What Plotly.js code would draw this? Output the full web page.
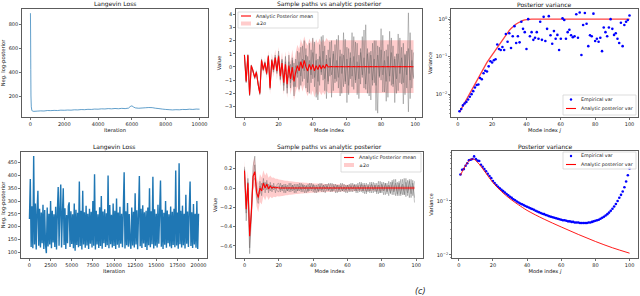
<!DOCTYPE html>
<html><head><meta charset="utf-8">
<script src="https://cdn.plot.ly/plotly-3.0.1.min.js"></script>
<style>html,body{margin:0;padding:0;background:#fff}#chart{width:640px;height:296px}</style>
</head><body><div id="chart"></div>
<script>
// ---------------- DATA ----------------
// Panel 1: Langevin loss (10000 iterations)
const iters1 = [0,10,20,30,50,80,120,200,400,600,800,1000,1200,1400,1600,1800,2000,2200,2400,2600,2800,3000,3200,3400,3600,3800,4000,4200,4400,4600,4800,5000,5200,5400,5600,5800,5900,6000,6100,6200,6400,6600,6800,7000,7200,7400,7600,7800,8000,8200,8400,8600,8800,9000,9200,9400,9600,9800,10000];
const loss1  = [890,700,420,200,110,82,74,72,74,76,75,79,78,80,79,82,81,83,82,85,84,87,86,89,88,91,90,93,92,95,93,96,94,97,95,99,112,118,108,101,98,100,102,104,103,98,95,91,88,86,84,86,85,88,87,90,88,91,90];

// Panel 4: Langevin loss (20000 iterations, every 100th)
const loss4 = [
230,386,120,280,115,476,130,290,110,260,
340,125,270,118,255,135,285,112,265,128,
96,275,122,250,130,300,115,262,138,248,
120,278,110,258,355,125,268,365,118,252,
350,128,272,112,245,135,280,295,120,260,
132,248,115,290,105,266,128,254,119,376,
124,262,110,340,130,256,117,282,126,250,
112,270,133,258,118,300,125,405,110,262,
130,248,116,276,124,320,113,259,135,268,
120,252,127,400,115,284,131,246,118,290,
124,262,112,310,129,255,117,278,133,250,
119,268,413,114,260,127,292,121,249,136,
113,275,126,258,118,330,130,264,111,252,
398,123,270,116,283,134,256,120,262,108,
275,127,350,119,260,131,395,114,268,125,
250,118,285,133,257,380,121,266,112,254,
129,300,117,263,135,248,122,279,115,258,
128,270,119,420,126,255,113,448,131,262,
118,282,127,250,114,325,133,259,120,268,
376,124,256,116,288,130,250,117,300,112,
250];
const iters4 = loss4.map((_, i) => i * 100);

// Panel 2: sample paths vs analytic posterior (modes 0..99)
const modes = Array.from({length: 100}, (_, i) => i);
const mean2 = [
0.9,-1.1,0.9,-2.1,0.1,-0.3,-0.8,-0.4,-1.3,-2.0,
0.5,-0.2,0.3,-0.5,0.8,-1.6,0.5,-0.2,0.7,-0.3,
0.8,-0.7,0.3,-1.2,0.2,-1.3,0.1,-0.9,0.0,-1.1,
-0.4,0.1,-0.3,0.4,-0.1,0.5,0.0,-0.3,0.2,-0.2,
0.2,-0.3,0.1,-0.2,0.15,-0.15,0.1,-0.1,0.2,0.0,
0.02,0.03,0.02,0.02,0.03,0.02,0.02,0.03,0.02,0.02,
0.02,0.03,0.02,0.02,0.03,0.02,0.02,0.03,0.02,0.02,
0.02,0.03,0.02,0.02,0.03,0.02,0.02,0.03,0.02,0.02,
0.02,0.03,0.02,0.02,0.03,0.02,0.02,0.03,0.02,0.02,
0.02,0.03,0.02,0.02,0.03,0.02,0.02,0.03,0.02,0.02];
const pathA2 = [
0.85,-1.0,0.95,-2.0,0.1,-0.4,-0.7,-0.5,-1.2,-2.1,
0.6,-0.3,0.4,-0.6,0.9,-1.4,0.6,-0.4,0.9,-0.5,
1.2,-1.0,0.5,-1.8,0.8,-2.0,0.9,-1.6,0.7,-2.2,
0.6,-0.8,1.1,-1.4,1.6,-0.9,1.4,-1.9,1.8,-1.2,
2.2,-1.5,1.0,-2.5,1.7,-0.6,2.4,-1.8,0.9,-1.1,
1.9,-2.3,1.2,-0.9,2.1,-1.6,0.8,-2.0,2.6,-1.3,
1.5,-2.1,0.7,-1.5,2.3,-1.0,1.8,-2.4,1.1,-0.8,
2.8,-1.7,1.4,-2.2,0.9,-1.4,2.0,-3.3,1.6,-0.7,
2.9,-1.9,1.2,-2.6,1.7,-1.1,2.2,-1.5,0.8,-2.0,
2.5,-1.2,1.5,-2.8,1.0,-1.6,4.1,-2.4,1.3,-0.9];
const pathB2 = [
0.95,-1.2,0.8,-2.2,0.0,-0.2,-0.9,-0.3,-1.4,-1.9,
0.4,-0.1,0.2,-0.4,0.7,-1.7,0.4,0.0,0.5,-0.1,
0.5,-0.3,0.1,-0.7,-0.5,-0.6,-0.8,0.2,-1.0,0.3,
-1.5,1.2,-1.7,1.5,-1.1,2.0,-1.6,0.8,-2.0,1.3,
-0.9,1.9,-2.3,0.6,-1.4,2.3,-1.0,1.6,-2.4,1.3,
-0.7,2.0,-1.8,1.7,-1.1,2.4,-2.2,1.0,-1.5,2.1,
-2.7,1.4,-0.9,2.6,-1.7,1.9,-2.1,0.9,-1.3,2.3,
-1.6,3.2,-2.0,1.1,-2.5,1.8,-1.2,2.0,-3.5,1.5,
-1.0,2.4,-1.9,1.3,-2.3,2.7,-1.4,1.6,-2.7,1.0,
-1.8,2.2,-1.3,1.8,-2.1,1.2,-3.4,2.6,-1.6,1.1];
const pathC2 = [
0.9,-1.1,0.85,-2.1,0.15,-0.35,-0.75,-0.45,-1.3,-2.0,
0.5,-0.2,0.35,-0.5,0.8,-1.5,0.5,-0.25,0.75,-0.35,
0.9,-0.9,0.6,-1.4,0.4,-1.6,0.4,-1.2,0.5,-1.5,
0.1,-0.5,0.4,-0.7,0.6,-0.3,0.9,-1.2,0.5,-0.6,
1.1,-0.8,0.5,-1.1,0.8,-0.4,1.2,-0.9,0.6,-1.3,
0.7,-0.6,1.0,-1.2,0.5,-0.8,1.3,-0.5,0.9,-1.1,
0.6,-1.4,1.1,-0.7,0.8,-1.2,0.4,-0.9,1.4,-0.6,
0.7,-1.3,1.0,-0.5,1.2,-1.0,0.6,-1.4,0.9,-0.8,
1.3,-0.6,0.5,-1.1,0.8,-0.7,1.1,-1.3,0.6,-0.9,
1.0,-0.5,0.7,-1.2,0.9,-0.6,1.4,-1.0,0.5,-0.8];

// Panel 3: posterior variance (modes j = 1..100)
const modeJ = Array.from({length: 100}, (_, i) => i + 1);
const analyticVar3 = [
0.0033,0.0040,0.0048,0.0058,0.0070,0.0085,0.0103,0.0125,0.0155,0.0195,
0.024,0.029,0.035,0.042,0.050,0.059,0.070,0.082,0.096,0.11,
0.13,0.15,0.175,0.205,0.24,0.28,0.33,0.38,0.44,0.50,
0.56,0.62,0.68,0.74,0.79,0.84,0.88,0.92,0.95,0.97,
0.985,0.99,1,1,1,1,1,1,1,1,
1,1,1,1,1,1,1,1,1,1,
1,1,1,1,1,1,1,1,1,1,
1,1,1,1,1,1,1,1,1,1,
1,1,1,1,1,1,1,1,1,1,
1,1,1,1,1,1,1,1,1,1];
const empVar3 = [
0.0035,0.0040,0.0050,0.0056,0.0062,0.0072,0.0085,0.0100,0.0120,0.0150,
0.0175,0.0180,0.027,0.025,0.036,0.042,0.040,0.055,0.075,0.070,
0.080,0.085,0.21,0.16,0.15,0.18,0.15,0.40,0.25,0.42,
0.17,0.35,0.65,0.23,0.35,0.24,0.85,0.55,0.45,0.16,
1.0,0.35,0.45,0.28,0.32,0.45,0.30,0.85,0.28,1.15,
0.26,0.55,1.2,0.37,0.22,0.48,0.30,0.38,0.15,0.30,
1.05,0.95,0.30,0.45,0.52,0.37,0.33,0.35,1.35,0.32,
1.5,0.11,0.70,1.45,0.75,0.19,0.37,0.35,1.4,0.26,
0.30,0.25,0.32,0.14,0.60,0.45,0.35,0.60,1.0,0.55,
0.38,0.42,0.30,0.23,0.80,0.19,0.70,0.85,0.95,1.25];

// Panel 5: sample paths vs analytic posterior (second run)
const mean5 = [
0.18,-0.22,0.05,-0.5,-0.25,0.12,0.17,-0.04,-0.1,0.0,
-0.03,0.05,0.0,0.04,-0.01,0.02,0.0,0.01,0.0,0.005,
0,0,0,0,0,0,0,0,0,0, 0,0,0,0,0,0,0,0,0,0,
0,0,0,0,0,0,0,0,0,0, 0,0,0,0,0,0,0,0,0,0,
0,0,0,0,0,0,0,0,0,0, 0,0,0,0,0,0,0,0,0,0,
0,0,0,0,0,0,0,0,0,0, 0,0,0,0,0,0,0,0,0,0];
const halfWidth5 = [
0.11,0.12,0.13,0.135,0.14,0.145,0.15,0.15,0.15,0.145,
0.14,0.135,0.13,0.12,0.115,0.11,0.105,0.10,0.095,0.09,
0.088,0.085,0.082,0.079,0.076,0.074,0.071,0.069,0.067,0.065,
0.063,0.061,0.06,0.058,0.057,0.055,0.054,0.053,0.051,0.05,
0.049,0.048,0.047,0.046,0.045,0.044,0.043,0.042,0.041,0.041,
0.04,0.04,0.039,0.039,0.038,0.038,0.037,0.036,0.036,0.035,
0.035,0.034,0.034,0.033,0.033,0.032,0.032,0.032,0.031,0.031,
0.031,0.030,0.030,0.030,0.029,0.029,0.029,0.028,0.028,0.028,
0.028,0.027,0.027,0.027,0.026,0.026,0.026,0.025,0.025,0.025,
0.025,0.024,0.024,0.024,0.023,0.023,0.023,0.022,0.022,0.022];
const pathA5 = [
0.22,-0.26,0.1,-0.62,-0.22,0.22,0.33,-0.1,-0.16,0.07,
-0.08,0.1,-0.05,0.08,-0.05,0.06,-0.04,0.05,-0.05,0.04,
0.05,-0.04,0.03,-0.05,0.04,-0.03,0.05,-0.04,0.03,-0.05,
0.04,-0.03,0.05,-0.04,0.04,-0.05,0.03,-0.04,0.05,-0.03,
0.04,-0.05,0.03,-0.04,0.05,-0.04,0.03,-0.05,0.04,-0.03,
0.05,-0.04,0.04,-0.05,0.03,-0.04,0.05,-0.03,0.04,-0.05,
0.03,-0.04,0.05,-0.04,0.04,-0.05,0.05,-0.04,0.06,-0.05,
0.05,-0.06,0.04,-0.05,0.06,-0.05,0.05,-0.06,0.07,-0.05,
0.06,-0.07,0.05,-0.06,0.07,-0.06,0.08,-0.07,0.09,-0.08,
0.07,-0.08,0.09,-0.07,0.10,-0.08,0.09,-0.1,0.08,-0.15];
const pathB5 = [
0.12,-0.34,0.0,-0.68,-0.3,0.08,0.1,0.02,-0.05,-0.06,
0.05,-0.02,0.06,-0.02,0.04,-0.03,0.03,-0.02,0.02,-0.03,
-0.04,0.05,-0.03,0.04,-0.05,0.03,-0.04,0.05,-0.03,0.04,
-0.05,0.04,-0.03,0.05,-0.04,0.03,-0.05,0.04,-0.03,0.05,
-0.04,0.03,-0.05,0.04,-0.03,0.05,-0.04,0.04,-0.03,0.05,
-0.04,0.05,-0.03,0.04,-0.05,0.03,-0.04,0.05,-0.04,0.03,
-0.05,0.04,-0.04,0.05,-0.03,0.04,-0.05,0.06,-0.04,0.05,
-0.06,0.05,-0.04,0.06,-0.05,0.06,-0.04,0.05,-0.06,0.07,
-0.05,0.06,-0.07,0.05,-0.08,0.06,-0.07,0.09,-0.08,0.06,
-0.08,0.09,-0.07,0.1,-0.09,0.08,-0.1,0.09,-0.08,0.07];
const pathC5 = [
0.2,-0.18,0.06,-0.45,-0.26,0.1,0.24,-0.05,-0.12,0.02,
-0.01,0.06,0.01,0.05,0.0,0.03,-0.01,0.02,0.0,0.01,
0.02,-0.02,0.03,-0.01,0.02,-0.03,0.01,-0.02,0.03,-0.02,
0.01,-0.03,0.02,-0.02,0.03,-0.01,0.02,-0.03,0.02,-0.01,
0.03,-0.02,0.01,-0.03,0.02,-0.02,0.03,-0.01,0.02,-0.02,
0.01,-0.03,0.02,-0.01,0.03,-0.02,0.02,-0.03,0.01,-0.02,
0.03,-0.02,0.02,-0.01,0.03,-0.03,0.02,-0.02,0.04,-0.03,
0.03,-0.04,0.02,-0.03,0.04,-0.02,0.03,-0.04,0.03,-0.05,
0.04,-0.03,0.05,-0.04,0.03,-0.05,0.06,-0.04,0.05,-0.06,
0.05,-0.06,0.04,-0.07,0.06,-0.05,0.07,-0.06,0.05,-0.1];

// Panel 6: posterior variance (second run)
const empVar6 = [
0.31,0.38,0.39,0.45,0.50,0.57,0.58,0.60,0.67,0.60,
0.56,0.55,0.47,0.43,0.39,0.355,0.32,0.29,0.265,0.235,
0.215,0.198,0.184,0.172,0.162,0.152,0.143,0.135,0.127,0.12,
0.114,0.108,0.103,0.098,0.094,0.09,0.087,0.084,0.081,0.078,
0.076,0.073,0.071,0.069,0.066,0.064,0.062,0.06,0.058,0.057,
0.055,0.054,0.052,0.051,0.05,0.049,0.048,0.047,0.046,0.045,
0.044,0.044,0.043,0.042,0.042,0.041,0.041,0.04,0.04,0.04,
0.039,0.039,0.039,0.039,0.039,0.04,0.04,0.041,0.042,0.043,
0.044,0.045,0.047,0.049,0.051,0.054,0.057,0.061,0.066,0.072,
0.079,0.088,0.10,0.115,0.13,0.15,0.18,0.23,0.30,0.40];
const analyticJ6 = [1,3,5,7,8,9,10,12,15,20,25,30,35,40,50,60,70,80,90,100];
const analyticVar6 = [0.30,0.40,0.51,0.59,0.60,0.59,0.56,0.48,0.36,0.22,0.15,0.11,0.085,0.067,0.046,0.033,0.024,0.0178,0.0136,0.0108];

// ---------------- LAYOUT HELPERS ----------------
const F = 'DejaVu Sans';
const W = 640, H = 296;
const px = x => x / W;
const py = y => 1 - y / H;
const FRAME = '#333';
const TICKFONT = {family: F, size: 5, color: '#222'};
const TITLEFONT = {family: F, size: 5.2, color: '#111'};

function axis(x0, x1, range, extra) {
  return Object.assign({
    domain: [x0, x1], range: range, showline: true, mirror: true, linecolor: FRAME, linewidth: 0.8,
    ticks: 'outside', ticklen: 2, tickwidth: 0.7, tickcolor: FRAME, showgrid: false, zeroline: false,
    tickfont: TICKFONT, automargin: false, fixedrange: true
  }, extra || {});
}
const minorLog = {ticks: 'outside', ticklen: 1.2, tickwidth: 0.5, tickcolor: FRAME, tickmode: 'array',
  tickvals: [0.002,0.003,0.004,0.005,0.006,0.007,0.008,0.009,0.02,0.03,0.04,0.05,0.06,0.07,0.08,0.09,0.2,0.3,0.4,0.5,0.6,0.7,0.8,0.9,1.1]};

// panel frames in pixels
const P = {
  p1: {x: [22, 208], y: [9, 117]},
  p2: {x: [236, 422], y: [9, 117]},
  p3: {x: [451, 638], y: [9, 117]},
  p4: {x: [21, 207], y: [152, 258]},
  p5: {x: [236, 423], y: [152, 258]},
  p6: {x: [452, 638], y: [151, 258]}
};
const xd = p => [px(p.x[0]), px(p.x[1])];
const yd = p => [py(p.y[1]), py(p.y[0])];

// ---------------- TRACES ----------------
const C0 = '#1f77b4';
const GREY = 'rgba(85,85,85,0.5)';
const PINK = 'rgba(255,0,0,0.2)';
const traces = [];

traces.push({x: iters1, y: loss1, type: 'scatter', mode: 'lines', line: {color: C0, width: 0.7, simplify: false}, xaxis: 'x', yaxis: 'y'});

function pathPanel(mean, hw, paths, xa, ya) {
  traces.push({x: modes, y: mean.map((m, i) => m + hw[i]), type: 'scatter', mode: 'lines', line: {width: 0, color: PINK, simplify: false}, xaxis: xa, yaxis: ya});
  traces.push({x: modes, y: mean.map((m, i) => m - hw[i]), type: 'scatter', mode: 'lines', line: {width: 0, color: PINK, simplify: false}, fill: 'tonexty', fillcolor: PINK, xaxis: xa, yaxis: ya});
  paths.forEach(p => traces.push({x: modes, y: p, type: 'scatter', mode: 'lines', line: {color: GREY, width: 0.7, simplify: false}, xaxis: xa, yaxis: ya}));
  traces.push({x: modes, y: mean, type: 'scatter', mode: 'lines', line: {color: 'red', width: 1.1, simplify: false}, xaxis: xa, yaxis: ya});
}
const hw2 = analyticVar3.map(v => 2 * Math.sqrt(v));
pathPanel(mean2, hw2, [pathA2, pathB2, pathC2], 'x2', 'y2');

traces.push({x: modeJ, y: analyticVar3, type: 'scatter', mode: 'lines', line: {color: 'rgba(255,30,30,0.85)', width: 1.3}, xaxis: 'x3', yaxis: 'y3'});
traces.push({x: modeJ, y: empVar3, type: 'scatter', mode: 'markers', marker: {color: 'blue', size: 2.6, line: {width: 0}}, xaxis: 'x3', yaxis: 'y3'});

traces.push({x: iters4, y: loss4, type: 'scatter', mode: 'lines', line: {color: C0, width: 1.4, simplify: false}, xaxis: 'x4', yaxis: 'y4'});

pathPanel(mean5, halfWidth5, [pathA5, pathB5, pathC5], 'x5', 'y5');

traces.push({x: modeJ, y: empVar6, type: 'scatter', mode: 'markers', marker: {color: 'blue', size: 2.6, line: {width: 0}}, xaxis: 'x6', yaxis: 'y6'});
traces.push({x: analyticJ6, y: analyticVar6, type: 'scatter', mode: 'lines', line: {color: 'red', width: 0.9, shape: 'spline'}, xaxis: 'x6', yaxis: 'y6'});

// ---------------- LEGENDS (drawn) ----------------
const shapes = [], annotations = [];
function legendBox(x0, y0, x1, y1, items) {
  shapes.push({type: 'rect', xref: 'paper', yref: 'paper', x0: px(x0), x1: px(x1), y0: py(y1), y1: py(y0),
    fillcolor: 'rgba(255,255,255,0.85)', line: {color: '#cfcfcf', width: 0.7}, layer: 'above'});
  items.forEach(it => {
    const hx0 = x0 + 3, hx1 = x0 + 13;
    if (it.kind === 'line') {
      shapes.push({type: 'line', xref: 'paper', yref: 'paper', x0: px(hx0), x1: px(hx1), y0: py(it.cy), y1: py(it.cy), line: {color: it.color, width: 1.1}, layer: 'above'});
    } else if (it.kind === 'rect') {
      shapes.push({type: 'rect', xref: 'paper', yref: 'paper', x0: px(hx0), x1: px(hx1), y0: py(it.cy + 2), y1: py(it.cy - 2), fillcolor: it.color, line: {width: 0}, layer: 'above'});
    } else {
      const cx = (hx0 + hx1) / 2;
      shapes.push({type: 'circle', xref: 'paper', yref: 'paper', x0: px(cx - 1.2), x1: px(cx + 1.2), y0: py(it.cy + 1.2), y1: py(it.cy - 1.2), fillcolor: it.color, line: {width: 0}, layer: 'above'});
    }
    annotations.push({xref: 'paper', yref: 'paper', x: px(x0 + 16), y: py(it.cy), xanchor: 'left', yanchor: 'middle', showarrow: false,
      text: it.text, font: {family: F, size: 4.8, color: '#222'}});
  });
}
legendBox(238, 12, 318, 28, [
  {kind: 'line', color: 'red', text: 'Analytic Posterior mean', cy: 16},
  {kind: 'rect', color: PINK, text: '±2σ', cy: 23.5}]);
legendBox(341, 153, 421, 172, [
  {kind: 'line', color: 'red', text: 'Analytic Posterior mean', cy: 157.5},
  {kind: 'rect', color: PINK, text: '±2σ', cy: 165}]);
legendBox(563, 95, 636, 115, [
  {kind: 'dot', color: 'blue', text: 'Empirical var', cy: 99.5},
  {kind: 'line', color: 'red', text: 'Analytic posterior var', cy: 108.5}]);
legendBox(563, 152, 636, 169, [
  {kind: 'dot', color: 'blue', text: 'Empirical var', cy: 156},
  {kind: 'line', color: 'red', text: 'Analytic posterior var', cy: 164.5}]);

// panel titles
function panelTitle(p, text) {
  annotations.push({xref: 'paper', yref: 'paper', x: px((p.x[0] + p.x[1]) / 2), y: py(p.y[0] - 4.6), xanchor: 'center', yanchor: 'middle',
    showarrow: false, borderpad: 0, text: text, font: {family: F, size: 6, color: '#111'}});
}
panelTitle(P.p1, 'Langevin Loss');
panelTitle(P.p2, 'Sample paths vs analytic posterior');
panelTitle(P.p3, 'Posterior variance');
panelTitle(P.p4, 'Langevin Loss');
panelTitle(P.p5, 'Sample paths vs analytic posterior');
panelTitle(P.p6, 'Posterior variance');

annotations.push({xref: 'paper', yref: 'paper', x: px(420), y: py(291), xanchor: 'center', yanchor: 'middle', showarrow: false,
  text: '<i>(c)</i>', font: {family: F, size: 8, color: '#222'}});

const tt = (text) => ({text: text, font: TITLEFONT, standoff: 2});
const supT = ['10<sup>−2</sup>', '10<sup>−1</sup>', '10<sup>0</sup>'];

const layout = {
  width: W, height: H, margin: {l: 0, r: 0, t: 0, b: 0}, paper_bgcolor: 'white', plot_bgcolor: 'white', showlegend: false,
  xaxis:  axis(...xd(P.p1), [-500, 10500], {anchor: 'y', tickvals: [0,2000,4000,6000,8000,10000], tickformat: 'd', title: tt('Iteration')}),
  yaxis:  axis(...yd(P.p1), [25, 925], {anchor: 'x', tickvals: [200,400,600,800], title: tt('Neg. log-posterior')}),
  xaxis2: axis(...xd(P.p2), [-4.95, 103.95], {anchor: 'y2', tickvals: [0,20,40,60,80,100], title: tt('Mode index')}),
  yaxis2: axis(...yd(P.p2), [-3.79, 4.39], {anchor: 'x2', tickvals: [-3,-2,-1,0,1,2,3,4], title: tt('Value')}),
  xaxis3: axis(...xd(P.p3), [-3.95, 104.95], {anchor: 'y3', tickvals: [0,20,40,60,80,100], title: tt('Mode index <i>j</i>')}),
  yaxis3: axis(...yd(P.p3), [-2.61, 0.27], {anchor: 'x3', type: 'log', tickmode: 'array', tickvals: [0.01, 0.1, 1], ticktext: supT, minor: minorLog, title: tt('Variance')}),
  xaxis4: axis(...xd(P.p4), [-1000, 21000], {anchor: 'y4', tickvals: [0,2500,5000,7500,10000,12500,15000,17500,20000], tickformat: 'd', title: tt('Iteration')}),
  yaxis4: axis(...yd(P.p4), [77, 492], {anchor: 'x4', tickvals: [100,150,200,250,300,350,400,450], title: tt('Neg. log-posterior')}),
  xaxis5: axis(...xd(P.p5), [-4.95, 103.95], {anchor: 'y5', tickvals: [0,20,40,60,80,100], title: tt('Mode index')}),
  yaxis5: axis(...yd(P.p5), [-0.725, 0.373], {anchor: 'x5', tickvals: [-0.6,-0.4,-0.2,0,0.2], tickformat: '.1f', title: tt('Value')}),
  xaxis6: axis(...xd(P.p6), [-3.95, 104.95], {anchor: 'y6', tickvals: [0,20,40,60,80,100], title: tt('Mode index <i>j</i>')}),
  yaxis6: axis(...yd(P.p6), [-2.056, -0.074], {anchor: 'x6', type: 'log', tickmode: 'array', tickvals: [0.01, 0.1], ticktext: supT.slice(0, 2), minor: minorLog, title: tt('Variance')}),
  shapes: shapes, annotations: annotations
};

Plotly.newPlot('chart', traces, layout, {staticPlot: true, displayModeBar: false});
</script></body></html>
